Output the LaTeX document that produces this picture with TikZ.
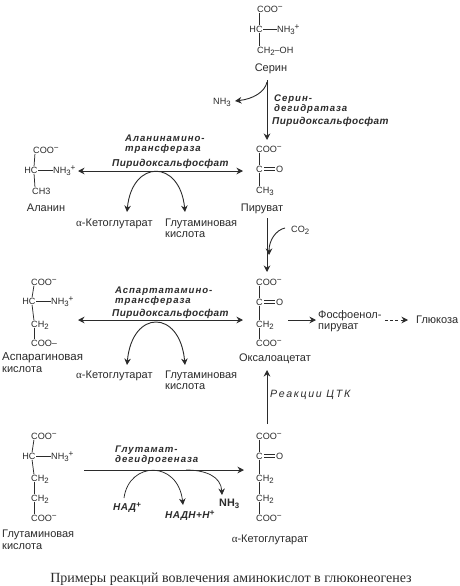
\documentclass[tikz,border=0pt]{standalone}
\usepackage{fontspec}
\setmainfont{Liberation Sans}
\newfontfamily\serifcap{Liberation Serif}
\newfontfamily\enzfont[LetterSpace=10]{Liberation Sans}
\newfontfamily\cofont[LetterSpace=4]{Liberation Sans}
\newfontfamily\tcafont[LetterSpace=16]{Liberation Sans}
\usetikzlibrary{arrows.meta}
\definecolor{ink}{gray}{0.17}
\newcommand{\subs}[1]{\raisebox{-2pt}{\fontsize{7.8}{8}\selectfont #1}}
\newcommand{\sups}[1]{\raisebox{2.8pt}{\fontsize{8.2}{8}\selectfont #1}}
\newcommand{\mns}{\sups{−}}
\newcommand{\alphaS}{{\serifcap α}}
\tikzset{
  every node/.style={inner sep=0pt,text=ink},
  chem/.style={font=\fontsize{9.1}{10}\selectfont,text height=6.2pt,text depth=0pt,anchor=west},
  chemc/.style={chem,anchor=center},
  lab/.style={font=\fontsize{11}{12}\selectfont,text height=7.8pt,text depth=0pt,anchor=west},
  labc/.style={lab,anchor=center},
  enz/.style={font=\enzfont\fontsize{9.6}{10}\selectfont\bfseries\itshape,text height=6.4pt,text depth=0pt,anchor=west},
  cof/.style={font=\cofont\fontsize{10}{10}\selectfont\itshape\bfseries,text height=6.4pt,text depth=0pt,anchor=west},
  bond/.style={draw=ink,line width=0.75pt,shorten >=0.5pt,shorten <=0.5pt},
  tips/.style={-{Stealth[length=6.5pt,width=6.5pt]}},
  arr/.style={draw=ink,line width=0.9pt,tips},
  thin arr/.style={draw=ink,line width=0.75pt,tips},
  arrb/.style={draw=ink,line width=0.9pt,{Stealth[length=6.5pt,width=6.5pt]}-{Stealth[length=6.5pt,width=6.5pt]}},
}
\newcommand{\dbond}[2]{\draw[bond] ([shift={(1,-1.3)}]#1.east) -- ([shift={(-1,-1.3)}]#2.west);
  \draw[bond] ([shift={(1,1.3)}]#1.east) -- ([shift={(-1,1.3)}]#2.west);}
\begin{document}
\begin{tikzpicture}[x=1pt,y=-1pt]
\useasboundingbox (0,0) rectangle (460,586);
\fill[white] (0,0) rectangle (460,586);
%% free ends of connectors
\coordinate (c1a) at (267,80);   \coordinate (c1b) at (267,140);
\coordinate (c2a) at (267,82);   \coordinate (c2b) at (235,101);
\coordinate (c3a) at (78,171);   \coordinate (c3b) at (243,171);
\coordinate (c4a) at (127,212);  \coordinate (c4b) at (185,212);
\coordinate (c5a) at (267,218);  \coordinate (c5b) at (267,272);
\coordinate (c6a) at (285,228);  \coordinate (c6b) at (269,255);
\coordinate (c7a) at (78,320);   \coordinate (c7b) at (243,320);
\coordinate (c8a) at (127,365);  \coordinate (c8b) at (185,365);
\coordinate (c9a) at (288,320);  \coordinate (c9b) at (316,320);
\coordinate (c10a) at (385,320); \coordinate (c10b) at (408,320);
\coordinate (c11a) at (267,424); \coordinate (c11b) at (267,370);
\coordinate (c12a) at (84,470);  \coordinate (c12b) at (244,470);
\coordinate (c13a) at (124,498); \coordinate (c13b) at (183,505);
\coordinate (c14a) at (186,470); \coordinate (c14b) at (222,495);
%% Serine
\node[chem] (sa) at (257,9) {COO\mns};
\node[chemc] (sb) at (256,29) {HC};
\node[chem] (sn) at (277,29) {NH\subs{3}\sups{+}};
\node[chem] (sc) at (257,50) {CH\subs{2}–OH};
\node[labc] (ser) at (271,68) {Серин};
\draw[bond] ([xshift=2]sa.south west) -- ([xshift=3]sb.north);
\draw[bond] ([xshift=3]sb.south) -- ([xshift=2]sc.north west);
\draw[bond] (sb.east) -- (sn.west);
\node[chem] (amm) at (213,101) {NH\subs{3}};
\draw[arr] (c1a) -- (c1b);
\draw[arr] (c2a) .. controls (265,92) and (253,99) .. (c2b);
\node[enz] (e1a) at (274,98) {Серин-};
\node[enz] (e1b) at (274,108) {дегидратаза};
\node[cof] (e1c) at (272,121) {Пиридоксальфосфат};
%% Pyruvate
\node[chem] (pa) at (256,149) {COO\mns};
\node[chem] (pb) at (256,169) {C};
\node[chem] (po) at (276,169) {O};
\node[chem] (pc) at (256,190) {CH\subs{3}};
\node[labc] (pir) at (262,208) {Пируват};
\draw[bond] ([xshift=3]pa.south west) -- ([xshift=3]pb.north west);
\draw[bond] ([xshift=3]pb.south west) -- ([xshift=3]pc.north west);
\dbond{pb}{po}
%% Alanine
\node[chem] (aa) at (33,150) {COO\mns};
\node[chemc] (ab) at (31,170) {HC};
\node[chem] (an) at (53,170) {NH\subs{3}\sups{+}};
\node[chem] (ac) at (32,191) {CH3};
\node[labc] (ala) at (46,208) {Аланин};
\draw[bond] ([xshift=2]aa.south west) -- ([xshift=3]ab.north);
\draw[bond] ([xshift=3]ab.south) -- ([xshift=3]ac.north west);
\draw[bond] (ab.east) -- (an.west);
\draw[arrb] (c3a) -- (c3b);
\node[enz] (e2a) at (125,138) {Аланинамино-};
\node[enz] (e2b) at (125,148) {трансфераза};
\node[cof] (e2c) at (112,163) {Пиридоксальфосфат};
\node[lab] (k1) at (76,223) {\alphaS-Кетоглутарат};
\node[lab] (g1) at (165,223) {Глутаминовая};
\node[lab] (g1b) at (165,234) {кислота};
\draw[arrb] (c4a) .. controls (132,159) and (180,159) .. (c4b);
%% Oxaloacetate
\node[chem] (oa) at (256,282) {COO\mns};
\node[chem] (ob) at (256,302) {C};
\node[chem] (oo) at (276,302) {O};
\node[chem] (oc) at (256,324) {CH\subs{2}};
\node[chem] (od) at (256,343) {COO\mns};
\node[labc] (oxa) at (275,358) {Оксалоацетат};
\draw[bond] ([xshift=3]oa.south west) -- ([xshift=3]ob.north west);
\draw[bond] ([xshift=3]ob.south west) -- ([xshift=3]oc.north west);
\draw[bond] ([xshift=3]oc.south west) -- ([xshift=3]od.north west);
\dbond{ob}{oo}
\node[chem] (co) at (291,229) {CO\subs{2}};
\draw[arr] (c5a) -- (c5b);
\draw[arr] (c6a) .. controls (276,230) and (269,240) .. (c6b);
%% Asp
\node[chem] (ba) at (31,282) {COO\mns};
\node[chemc] (bb) at (29,301) {HC};
\node[chem] (bn) at (51,301) {NH\subs{3}\sups{+}};
\node[chem] (bc) at (31,324) {CH\subs{2}};
\node[chem] (bd) at (31,343) {COO–};
\node[lab,font=\fontsize{11.5}{12}\selectfont] (asp) at (2,357) {Аспарагиновая};
\node[lab] (aspb) at (2,369) {кислота};
\draw[bond] ([xshift=3]ba.south west) -- ([xshift=3]bb.north);
\draw[bond] ([xshift=3]bb.south) -- ([xshift=3]bc.north west);
\draw[bond] ([xshift=3]bc.south west) -- ([xshift=3]bd.north west);
\draw[bond] (bb.east) -- (bn.west);
\draw[arrb] (c7a) -- (c7b);
\node[enz] (e3a) at (115,290) {Аспартатамино-};
\node[enz] (e3b) at (115,300) {трансфераза};
\node[cof] (e3c) at (112,313) {Пиридоксальфосфат};
\node[lab] (k2) at (76,375) {\alphaS-Кетоглутарат};
\node[lab] (g2) at (165,375) {Глутаминовая};
\node[lab] (g2b) at (165,386) {кислота};
\draw[arrb] (c8a) .. controls (132,309) and (180,309) .. (c8b);
\node[lab] (f1) at (318,315) {Фосфоенол-};
\node[lab] (f2) at (318,326) {пируват};
\node[lab] (gl) at (416,320) {Глюкоза};
\draw[arr] (c9a) -- (c9b);
\draw[arr,dash pattern=on 3pt off 2.2pt] (c10a) -- (c10b);
%% Glu
\node[chem] (ca) at (31,436) {COO\mns};
\node[chemc] (cb) at (29,456) {HC};
\node[chem] (cn) at (51,456) {NH\subs{3}\sups{+}};
\node[chem] (cc) at (31,478) {CH\subs{2}};
\node[chem] (cd) at (31,498) {CH\subs{2}};
\node[chem] (ce) at (31,518) {COO\mns};
\node[lab] (glu) at (2,534) {Глутаминовая};
\node[lab] (glub) at (2,546) {кислота};
\draw[bond] ([xshift=3]ca.south west) -- ([xshift=3]cb.north);
\draw[bond] ([xshift=3]cb.south) -- ([xshift=3]cc.north west);
\draw[bond] ([xshift=3]cc.south west) -- ([xshift=3]cd.north west);
\draw[bond] ([xshift=3]cd.south west) -- ([xshift=3]ce.north west);
\draw[bond] (cb.east) -- (cn.west);
%% aKG
\node[chem] (da) at (256,436) {COO\mns};
\node[chem] (db) at (256,456) {C};
\node[chem] (dq) at (276,456) {O};
\node[chem] (dc) at (256,478) {CH\subs{2}};
\node[chem] (dd) at (256,498) {CH\subs{2}};
\node[chem] (de) at (256,518) {COO\mns};
\node[labc] (akg) at (270,539) {\alphaS-Кетоглутарат};
\draw[bond] ([xshift=3]da.south west) -- ([xshift=3]db.north west);
\draw[bond] ([xshift=3]db.south west) -- ([xshift=3]dc.north west);
\draw[bond] ([xshift=3]dc.south west) -- ([xshift=3]dd.north west);
\draw[bond] ([xshift=3]dd.south west) -- ([xshift=3]de.north west);
\dbond{db}{dq}
\draw[arr] (c11a) -- (c11b);
\node[font=\tcafont\fontsize{10.6}{11}\selectfont\itshape,anchor=west,text height=7pt,text depth=0pt] (tca) at (270,394) {Реакции ЦТК};
\draw[arr] (c12a) -- (c12b);
\node[enz] (e4a) at (115,449) {Глутамат-};
\node[enz] (e4b) at (115,459) {дегидрогеназа};
\node[cof] (nad) at (113,507) {НАД\sups{+}};
\node[cof] (nadh) at (165,515) {НАДН+Н\sups{+}};
\node[font=\fontsize{10.8}{12}\selectfont\bfseries,anchor=west,text height=7.5pt,text depth=0pt] (nh) at (219,503) {NH\subs{3}};
\draw[thin arr] (c13a) .. controls (129,461) and (178,460) .. (c13b);
\draw[thin arr] (c14a) .. controls (205,470) and (221,476) .. (c14b);
%% Caption
\node[font=\serifcap\fontsize{14}{16}\selectfont,text height=9pt,text depth=0pt] (cap) at (231,578) {Примеры реакций вовлечения аминокислот в глюконеогенез};
\end{tikzpicture}
\end{document}
